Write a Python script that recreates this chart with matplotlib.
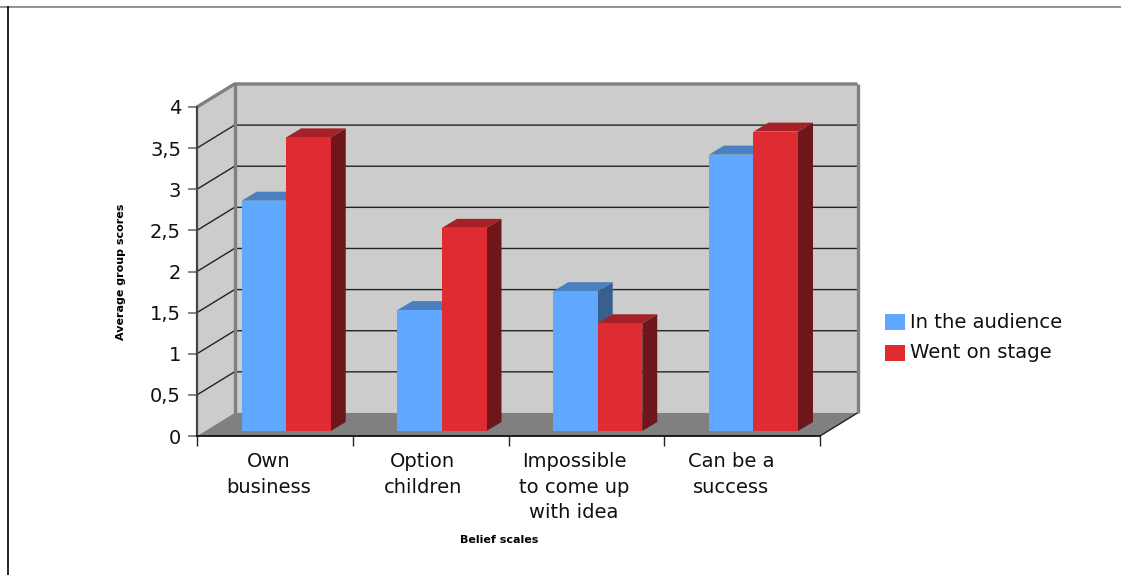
import matplotlib
matplotlib.use("Agg")
import matplotlib.pyplot as plt
from matplotlib.patches import Rectangle

# Datos
categorias = ["Own\nbusiness", "Option\nchildren", "Impossible\nto come up\nwith idea", "Can be a\nsuccess"]
audience = [2.80, 1.47, 1.70, 3.36]
stage = [3.57, 2.47, 1.31, 3.64]
yticks = [0, 0.5, 1, 1.5, 2, 2.5, 3, 3.5, 4]
yticklabels = ["0", "0,5", "1", "1,5", "2", "2,5", "3", "3,5", "4"]

W, H = 1121, 575
FUENTE = "DejaVu Sans"

# profundidad de la caja y de las barras, en unidades de datos
DX, DY = 0.241, 0.28
BX, BY = 0.096, 0.109
OX, OY = 0.051, 0.061
ANCHO = 0.286
INICIO = 0.236
# centro de cada etiqueta del eje x
pos_etiquetas = [0.462, 1.45, 2.42, 3.43]

fig = plt.figure(figsize=(W / 100, H / 100), dpi=100)
ax = fig.add_axes([197 / W, 1 - 436 / H, (820 - 197) / W, (436 - 107) / H])
ax.set_xlim(0, 4)
ax.set_ylim(0, 4)
ax.patch.set_visible(False)


def poli(xs, ys, color, z):
    ax.fill(xs, ys, color=color, lw=0, zorder=z, clip_on=False)


def linea(xs, ys, color, lw, z):
    ax.plot(xs, ys, color=color, lw=lw, zorder=z, clip_on=False, solid_capstyle="butt")


# Paredes y piso
poli([DX, 4 + DX, 4 + DX, DX], [DY, DY, 4 + DY, 4 + DY], "#cccccc", 1)
poli([0, DX, DX, 0], [0, DY, 4 + DY, 4], "#cccccc", 1)
poli([0, 4, 4 + DX, DX], [0, 0, DY, DY], "#808080", 2)

# Grilla
for v in yticks[1:-1]:
    linea([0, DX, 4 + DX], [v, v + DY, v + DY], "#222222", 1.0, 3)

# Bordes de la caja
linea([DX, DX], [DY, 4 + DY], "#808080", 2.4, 4)
linea([4 + DX, 4 + DX], [DY, 4 + DY], "#808080", 2.4, 4)
linea([0, DX, 4 + DX], [4, 4 + DY, 4 + DY], "#808080", 2.4, 4)
linea([4, 4 + DX], [0, DY], "#222222", 1.0, 4)


def barra(x0, v, frente, techo, lado, z):
    x1 = x0 + ANCHO
    y0 = OY
    y1 = OY + v
    poli([x1, x1 + BX, x1 + BX, x1], [y0, y0 + BY, y1 + BY, y1], lado, z)
    poli([x0, x1, x1 + BX, x0 + BX], [y1, y1, y1 + BY, y1 + BY], techo, z)
    poli([x0, x1, x1, x0], [y0, y0, y1, y1], frente, z)


for i in range(len(categorias)):
    x0 = i + INICIO + OX
    barra(x0, audience[i], "#60a8ff", "#4a7fc0", "#37608f", 5 + i)
    barra(x0 + ANCHO, stage[i], "#df2c33", "#a52127", "#6e1619", 5.5 + i)

# Ejes
ax.set_yticks(yticks)
ax.set_yticklabels(yticklabels, fontsize=14, family=FUENTE, color="#111111")
ax.set_xticks(range(5))
ax.set_xticklabels([])
ax.set_xticks(pos_etiquetas, minor=True)
ax.set_xticklabels(categorias, minor=True, fontsize=14, family=FUENTE, linespacing=1.44,
                   va="top", color="#111111")
ax.tick_params(axis="x", which="minor", length=0, pad=11.5)
ax.tick_params(axis="x", which="major", length=7.5, width=1.0, color="#222222")
ax.tick_params(axis="y", length=6.5, width=1.2, color="#707070", pad=5)
for s in ["top", "right"]:
    ax.spines[s].set_visible(False)
ax.spines["left"].set_linewidth(1.6)
ax.spines["left"].set_color("#444444")
ax.spines["bottom"].set_linewidth(1.3)
ax.spines["bottom"].set_color("#111111")
ax.spines["left"].set_zorder(20)
ax.spines["bottom"].set_zorder(20)

fig.text(499 / W, 1 - 540 / H, "Belief scales", fontsize=8, fontweight="bold",
         family=FUENTE, ha="center", va="center")
fig.text(121 / W, 1 - 272 / H, "Average group scores", fontsize=8, fontweight="bold",
         family=FUENTE, ha="center", va="center", rotation=90)

# Leyenda
for y, color, texto in [(322, "#60a8ff", "In the audience"), (353, "#df2c33", "Went on stage")]:
    fig.add_artist(Rectangle((885 / W, 1 - (y + 8) / H), 20 / W, 16 / H, color=color, lw=0,
                             transform=fig.transFigure))
    fig.text(910 / W, 1 - y / H, texto, fontsize=14.1, family=FUENTE, va="center", ha="left",
             color="#111111")

# Marco de la imagen
fig.add_artist(plt.Line2D([0, 1], [1 - 6.5 / H, 1 - 6.5 / H], color="#808080", lw=1.2,
                          solid_capstyle="butt"))
fig.add_artist(plt.Line2D([7.5 / W, 7.5 / W], [0, 1 - 6 / H], color="black", lw=1.2,
                          solid_capstyle="butt"))

fig.savefig("out.png", dpi=100)
